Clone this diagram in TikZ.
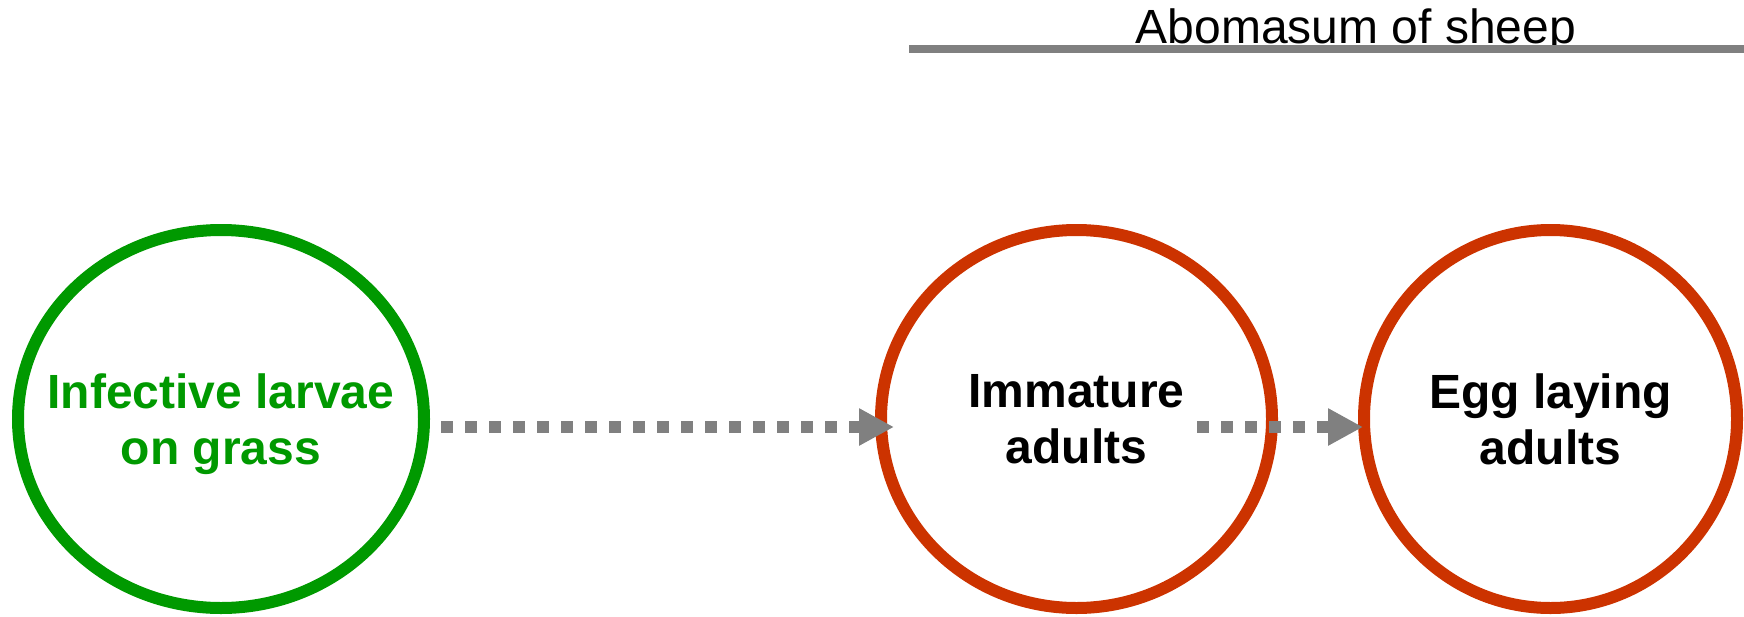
\documentclass[tikz,border=0pt]{standalone}
\usepackage{fontspec}
\setmainfont{Liberation Sans}
\usetikzlibrary{shapes.geometric,arrows.meta,positioning}
\definecolor{grassgreen}{HTML}{009900}
\definecolor{hostred}{HTML}{CC3300}
\definecolor{pathgray}{HTML}{808080}

\begin{document}
\begin{tikzpicture}[
    x=1pt, y=-1pt,
    stage/.style={ellipse, draw, line width=12pt, inner xsep=-120pt, inner ysep=0pt, outer sep=0pt, minimum height=378pt, align=center, text depth=0pt, font=\fontsize{48}{56}\selectfont\bfseries},
    host/.style={stage, draw=hostred},
    route/.style={draw=pathgray, line width=12pt, dash pattern=on 12pt off 12pt, -{Triangle[length=35pt,width=35pt]}}
]
    \useasboundingbox (0,0) rectangle (1744,616);
    \node [stage, draw=grassgreen, text=grassgreen, minimum width=406pt] (larvae) at (221,419) {Infective larvae\\on grass};
    \node [host, minimum width=391pt, right=457pt of larvae] (immature) {Immature\\adults};
    \node [host, minimum width=373pt, right=92pt of immature] (layers) {Egg laying\\adults};

    \draw [route] ([xshift=17pt,yshift=-8pt]larvae.east) -- ([xshift=13pt,yshift=-8pt]immature.west);
    \draw [route] ([xshift=-75pt,yshift=-8pt]immature.east) -- ([xshift=-1pt,yshift=-8pt]layers.west);

    \node [anchor=base, font=\fontsize{48}{56}\selectfont] (abomasum) at (1356,43) {Abomasum of sheep};
    \coordinate (rulestart) at (909,49);
    \coordinate (ruleend) at (1744,49);
    \draw [pathgray, line width=8pt] (rulestart) -- (ruleend);
\end{tikzpicture}
\end{document}
